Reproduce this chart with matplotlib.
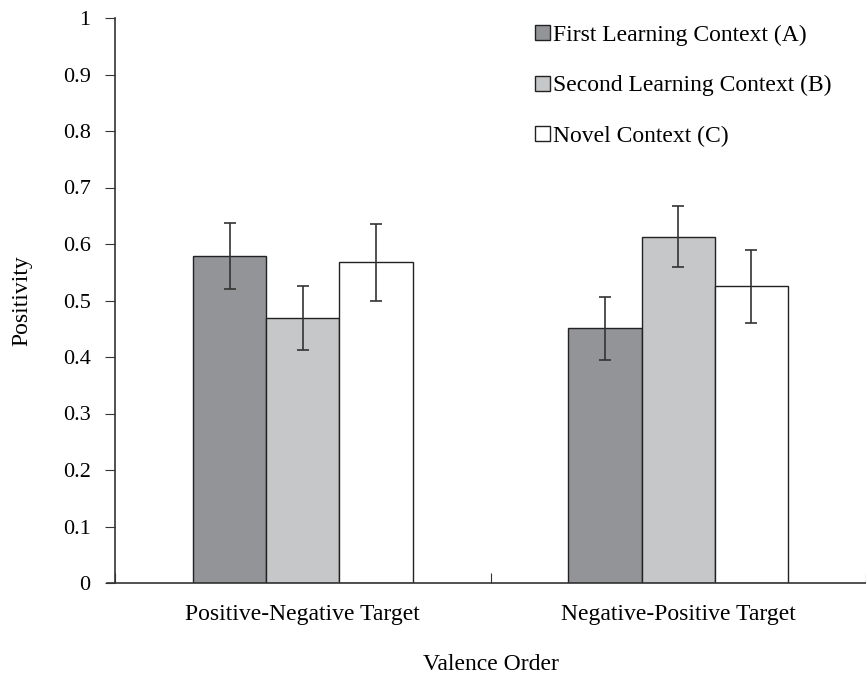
import matplotlib
matplotlib.use("Agg")
import matplotlib.pyplot as plt
import numpy as np
from matplotlib.patches import Patch

categories = ["Positive-Negative Target", "Negative-Positive Target"]
series = ["First Learning Context (A)", "Second Learning Context (B)", "Novel Context (C)"]
vals_A = [0.579, 0.451]
vals_B = [0.469, 0.613]
vals_C = [0.568, 0.525]
err_A = [0.058, 0.056]
err_B = [0.056, 0.054]
err_C = [0.068, 0.064]
yticks = [0, 0.1, 0.2, 0.3, 0.4, 0.5, 0.6, 0.7, 0.8, 0.9, 1]
ytick_labels = ["0", "0.1", "0.2", "0.3", "0.4", "0.5", "0.6", "0.7", "0.8", "0.9", "1"]

colors = ["#939498", "#c6c7c9", "#ffffff"]
plt.rcParams['font.family'] = ['Liberation Serif', 'DejaVu Serif']

fig = plt.figure(figsize=(8.66, 6.74), dpi=100)
ax = fig.add_axes([115/866, 91/674, 751/866, 565/674])

centers = np.array([0.5, 1.5])
w = 0.195
all_vals = [vals_A, vals_B, vals_C]
all_errs = [err_A, err_B, err_C]
for i, (v, e, c) in enumerate(zip(all_vals, all_errs, colors)):
    x = centers + (i - 1) * w
    ax.bar(x, v, width=w, color=c, edgecolor="#222222", linewidth=1.0, zorder=2)
    ax.errorbar(x, v, yerr=e, fmt="none", ecolor="#333333", elinewidth=1.2,
                capsize=4, capthick=1.2, zorder=3)

ax.set_xlim(0, 751/379)
ax.set_ylim(0, 1)
ax.set_yticks(yticks)
ax.set_yticklabels(ytick_labels, fontsize=16)
ax.set_xticks([0, 1, 2])
ax.set_xticklabels([])
ax.set_xticks(centers, minor=True)
ax.set_xticklabels(categories, minor=True, fontsize=17)
ax.tick_params(axis='x', which='major', direction='in', length=7, color="#333333")
ax.tick_params(axis='x', which='minor', length=0, pad=15)
ax.tick_params(axis='y', direction='out', length=7, color="#333333", pad=10.5)
for s in ["top", "right"]:
    ax.spines[s].set_visible(False)
for s in ["left", "bottom"]:
    ax.spines[s].set_color("#333333")
    ax.spines[s].set_linewidth(1.2)
ax.plot([-0.011, 0], [0, 0], transform=ax.transAxes, color="#333333", lw=1.2, clip_on=False)

ax.set_ylabel("Positivity", fontsize=17, va="center")
ax.yaxis.set_label_coords(-(115 - 22)/751, 0.5)
ax.set_xlabel("Valence Order", fontsize=17, va="center")
ax.xaxis.set_label_coords(0.5, -(665 - 583)/565)

handles = [Patch(facecolor=c, edgecolor="#222222", linewidth=1.0) for c in colors]
fig.legend(handles, series, loc="upper left", bbox_to_anchor=(526/866, 1 - 15/674),
           frameon=False, fontsize=17, handlelength=0.6, handleheight=0.6,
           handletextpad=0.15, labelspacing=1.25, borderaxespad=0)

fig.savefig("out.png", dpi=100)
